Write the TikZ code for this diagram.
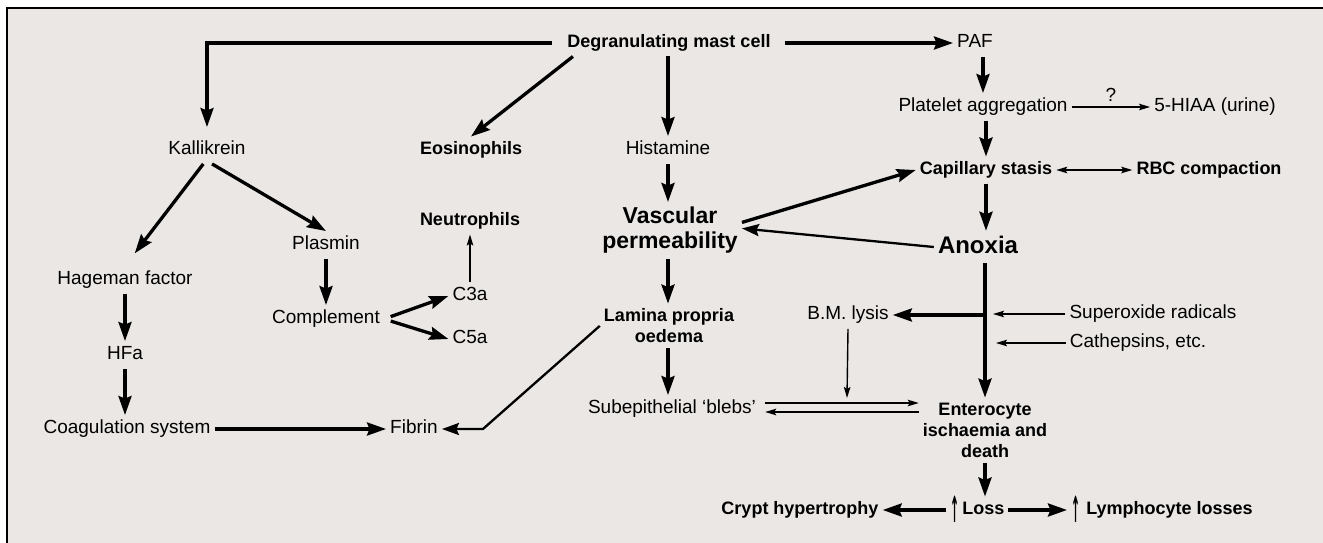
\documentclass[tikz,border=0pt]{standalone}
\usepackage{fontspec}
\setmainfont{Liberation Sans}
\newfontfamily\dejavu{DejaVu Sans}
\usetikzlibrary{arrows.meta,calc}
\definecolor{paper}{RGB}{234,231,228}
\newcommand\myup{\raisebox{-8pt}{\scalebox{0.6}[2.0]{\dejavu ↑}}}
\begin{document}
\begin{tikzpicture}[x=1pt,y=-1pt,
  lbl/.style={inner xsep=4pt, inner ysep=5pt, font=\fontsize{19}{21}\selectfont, text height=13.7pt, text depth=3.8pt},
  blbl/.style={lbl, font=\fontsize{18}{21}\selectfont\bfseries, text height=13pt, text depth=3.6pt},
  bigl/.style={lbl, font=\fontsize{24}{26}\selectfont\bfseries, text height=17.3pt, text depth=4.8pt},
  mbig/.style={inner xsep=4pt, inner ysep=5pt, align=center, font=\fontsize{23}{25}\selectfont\bfseries},
  mbold/.style={inner xsep=4pt, inner ysep=5pt, align=center, font=\fontsize{18}{21}\selectfont\bfseries},
  thk/.style={line width=3.3pt, -{Stealth[length=19pt,width=13pt,inset=2.5pt]}},
  med/.style={line width=2.3pt, -{Stealth[length=17pt,width=12pt,inset=2.5pt]}},
  thn/.style={line width=1.4pt, -{Stealth[length=11pt,width=6.5pt,inset=2pt]}},
  thnb/.style={line width=1.4pt, {Stealth[length=11pt,width=6.5pt,inset=2pt]}-{Stealth[length=11pt,width=6.5pt,inset=2pt]}},
]
\useasboundingbox (0,0) rectangle (1323,543);
\fill[white] (0,0) rectangle (1323,543);
\fill[paper] (7,8) rectangle (1323,543);
\draw[line width=2pt] (7,543) -- (7,8) -- (1323,8);

% nodes
\node[blbl] (mast) at (669,43) {Degranulating mast cell};
\node[lbl] (paf) at (975,43) {PAF};
\node[lbl] (kall) at (207,150) {Kallikrein};
\node[blbl] (eos) at (471,150) {Eosinophils};
\node[lbl] (hist) at (668,150) {Histamine};
\node[lbl] (plat) at (983,107) {Platelet aggregation};
\node[lbl] (hiaa) at (1215,107) {5-HIAA (urine)};
\node[blbl] (cap) at (986,170) {Capillary stasis};
\node[blbl] (rbc) at (1209,170) {RBC compaction};
\node[blbl] (neut) at (470,221) {Neutrophils};
\node[mbig, anchor=north] (vasc) at (670,202) {Vascular\\permeability};
\node[lbl] (plasmin) at (326,245) {Plasmin};
\node[bigl] (anox) at (978,247) {Anoxia};
\node[lbl] (hage) at (125,280) {Hageman factor};
\node[lbl] (c3a) at (470,296) {C3a};
\node[lbl] (comp) at (326,319) {Complement};
\node[lbl] (c5a) at (470,339) {C5a};
\node[mbold, anchor=north] (lam) at (669,303.6) {Lamina propria\\oedema};
\node[lbl] (bm) at (848,315) {B.M. lysis};
\node[lbl] (sup) at (1153,314) {Superoxide radicals};
\node[lbl] (cath) at (1138,343) {Cathepsins, etc.};
\node[lbl] (hfa) at (125,355) {HFa};
\node[lbl] (sub) at (672,409) {Subepithelial ‘blebs’};
\node[lbl] (coag) at (127,429) {Coagulation system};
\node[lbl] (fib) at (414,429) {Fibrin};
\node[mbold, anchor=north] (ent) at (985,397.6) {Enterocyte\\ischaemia and\\death};
\node[blbl, anchor=west] (loss) at (946,510) {\myup\hspace{3pt}Loss};
\node[blbl] (crypt) at (800,510) {Crypt hypertrophy};
\node[blbl, anchor=west] (lymph) at (1067,510) {\myup\hspace{6pt}Lymphocyte losses};
\coordinate (bmtip) at (847,398);

% connectors: top
\draw[thk, shorten <=11pt, shorten >=9pt] (mast.west) -| (kall.north);
\draw[thk] (mast.188) -- (eos.north);
\draw[thk] (hist.north |- mast.south) -- (hist.north);
\draw[thk, shorten <=10pt] (mast.east) -- (paf.west);
\draw[thk] (plat.north |- paf.south) -- (plat.north);
\draw[thn] (plat.east) -- node[lbl, above, inner ysep=1pt]{?} (hiaa.west);
\draw[thk] (cap.north |- plat.south) -- (cap.north);
\draw[thnb] (cap.east) -- (rbc.west);
\draw[thk] (cap.south) -- (cap.south |- anox.north);
\draw[thk] ([yshift=8pt]vasc.east) -- (cap.west);
\draw[med] (anox.west) -- ([yshift=2pt]vasc.east);

% right column
\draw[thk] (anox.south -| ent.north) -- (ent.north);
\draw[thk] (bm.east -| ent.north) -- (bm.east);
\draw[thn, shorten >=8pt] (sup.west) -- (sup.west -| ent.north);
\draw[thn, shorten >=11pt] (cath.west) -- (cath.west -| ent.north);
\draw[thn] (bm.south) -- (bmtip);
\draw[thn, shorten <=5pt] ([yshift=6pt]sub.east) -- ([yshift=6pt]sub.east -| ent.west);
\draw[thn, shorten >=5pt] ([yshift=-3pt]sub.east -| ent.west) -- ([yshift=-3pt]sub.east);
\draw[thk] (ent.south) -- (ent.south |- loss.north);
\draw[thk] (loss.west) -- (crypt.east);
\draw[thk] (loss.east) -- (lymph.west);

% middle column
\draw[thk] (hist.south) -- (hist.south |- vasc.north);
\draw[thk] (hist.south |- vasc.south) -- (hist.south |- lam.north);
\draw[thk] (hist.south |- lam.south) -- (hist.south |- sub.north);
\draw[med] (lam.west) -- ([xshift=41pt]fib.east) -- (fib.east);

% left
\draw[thk, shorten >=16pt] (kall.255) -- (hage.north);
\draw[thk] (kall.290) -- (plasmin.north);
\draw[thk] (plasmin.south) -- (comp.north);
\draw[thk, shorten <=7pt] (comp.east) -- (c3a.west);
\draw[thk, shorten <=7pt] (comp.east) -- (c5a.west);
\draw[thn] (c3a.north) -- (neut.south);
\draw[thk] (hage.south) -- (hfa.north);
\draw[thk] (hfa.south) -- (hfa.south |- coag.north);
\draw[thk] (coag.east) -- (fib.west);
\end{tikzpicture}
\end{document}
